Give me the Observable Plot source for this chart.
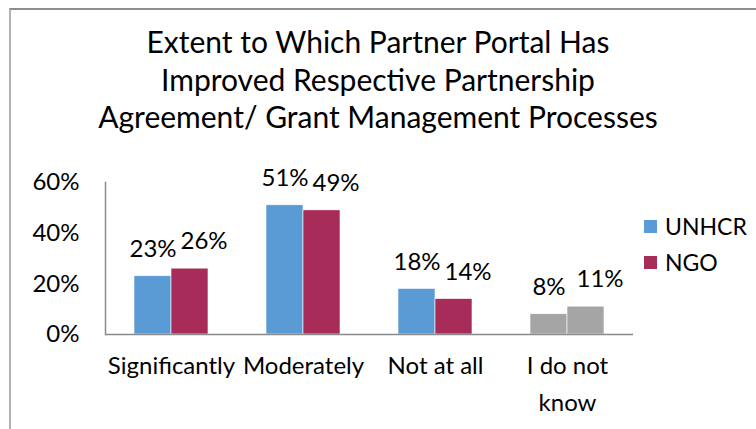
<!DOCTYPE html>
<html>
<head>
<meta charset="utf-8">
<script src="https://cdn.jsdelivr.net/npm/d3@7"></script>
<script src="https://cdn.jsdelivr.net/npm/@observablehq/plot@0.6"></script>
<style>
  html, body { margin: 0; padding: 0; background: #fff; }
  #wrap { position: relative; width: 756px; height: 429px; overflow: hidden; background: #fff; }
  #border { position: absolute; left: 9px; top: 8px; right: -10px; bottom: -10px;
            border-top: 2px solid #8e8e8e; border-left: 2px solid #b4b4b4; pointer-events: none; }
  #title { position: relative; height: 150px; box-sizing: border-box; padding-top: 23px;
           text-align: center; font-family: Lato, sans-serif; font-size: 30px; line-height: 37.5px; color: #000; }
  #legend { position: absolute; left: 644px; top: 208px; font-family: Lato, sans-serif; font-size: 23px; color: #000; }
  #legend .item { display: flex; align-items: center; height: 36px; }
  #legend .sw { width: 13px; height: 13px; margin-right: 8px; }
  #chart svg { display: block; }
</style>
</head>
<body>
<div id="wrap">
  <div id="border"></div>
  <div id="title"></div>
  <div id="chart"></div>
  <div id="legend"></div>
</div>
<script>
const titleLines = ["Extent to Which Partner Portal Has", "Improved Respective Partnership", "Agreement/ Grant Management Processes"];
const categories = ["Significantly", "Moderately", "Not at all", "I do not know"];
const series = ["UNHCR", "NGO"];
const unhcrValues = [0.23, 0.51, 0.18, 0.08];
const ngoValues = [0.26, 0.49, 0.14, 0.11];
const yTicks = [0, 0.2, 0.4, 0.6];
const seriesColors = ["#5b9bd5", "#a82c5a"];
const unknownColor = "#a5a5a5";

document.getElementById("title").innerHTML = titleLines.map(t => `<div>${t}</div>`).join("");

const rows = categories.flatMap((c, i) => [
  {cat: c, series: series[0], value: unhcrValues[i]},
  {cat: c, series: series[1], value: ngoValues[i]}
]);
const colorOf = d => d.cat === "I do not know" ? unknownColor : seriesColors[series.indexOf(d.series)];
const pct = d3.format(".0%");

const bandW = (756 - 105 - 123) / categories.length; // per-category width
const outer = 29, barW = 37;

const chart = Plot.plot({
  width: 756,
  height: 279,
  marginTop: 32,
  marginBottom: 95,
  marginLeft: 105,
  marginRight: 123,
  style: {fontFamily: "Lato, sans-serif", fontSize: "24px", color: "#000", background: "transparent"},
  x: {domain: categories, padding: 0, label: null},
  y: {domain: [0, 0.6], label: null},
  marks: [
    Plot.barY(rows.filter(d => d.series === series[0]), {
      x: "cat", y: "value", fill: colorOf, stroke: "#fff", strokeWidth: 0.6,
      insetLeft: outer, insetRight: bandW - outer - barW
    }),
    Plot.barY(rows.filter(d => d.series === series[1]), {
      x: "cat", y: "value", fill: colorOf, stroke: "#fff", strokeWidth: 0.6,
      insetLeft: outer + barW, insetRight: outer
    }),
    Plot.text(rows.filter(d => d.series === series[0]), {
      x: "cat", y: "value", text: d => pct(d.value), dx: outer + barW / 2 - bandW / 2, dy: -27,
      fontSize: 24, fill: "#000"
    }),
    Plot.text(rows.filter(d => d.series === series[1]), {
      x: "cat", y: "value", text: d => pct(d.value), dx: bandW / 2 - outer - barW / 2 + 14, dy: -27,
      fontSize: 24, fill: "#000"
    }),
    Plot.ruleY([0], {stroke: "#8a8a8a", strokeWidth: 1.5}),
    Plot.frame({anchor: "left", stroke: "#8a8a8a", strokeWidth: 1.5}),
    Plot.axisY({ticks: yTicks, tickFormat: pct, tickSize: 0, tickPadding: 26, fontSize: 24, fill: "#000"}),
    Plot.axisX({tickSize: 0, tickPadding: 13, fontSize: 24, fill: "#000", lineHeight: 1.54,
      tickFormat: d => d === "I do not know" ? "I do not\nknow" : d})
  ]
});
document.getElementById("chart").appendChild(chart);

document.getElementById("legend").innerHTML = series.map((s, i) =>
  `<div class="item"><div class="sw" style="background:${seriesColors[i]}"></div><span>${s}</span></div>`).join("");
</script>
</body>
</html>
